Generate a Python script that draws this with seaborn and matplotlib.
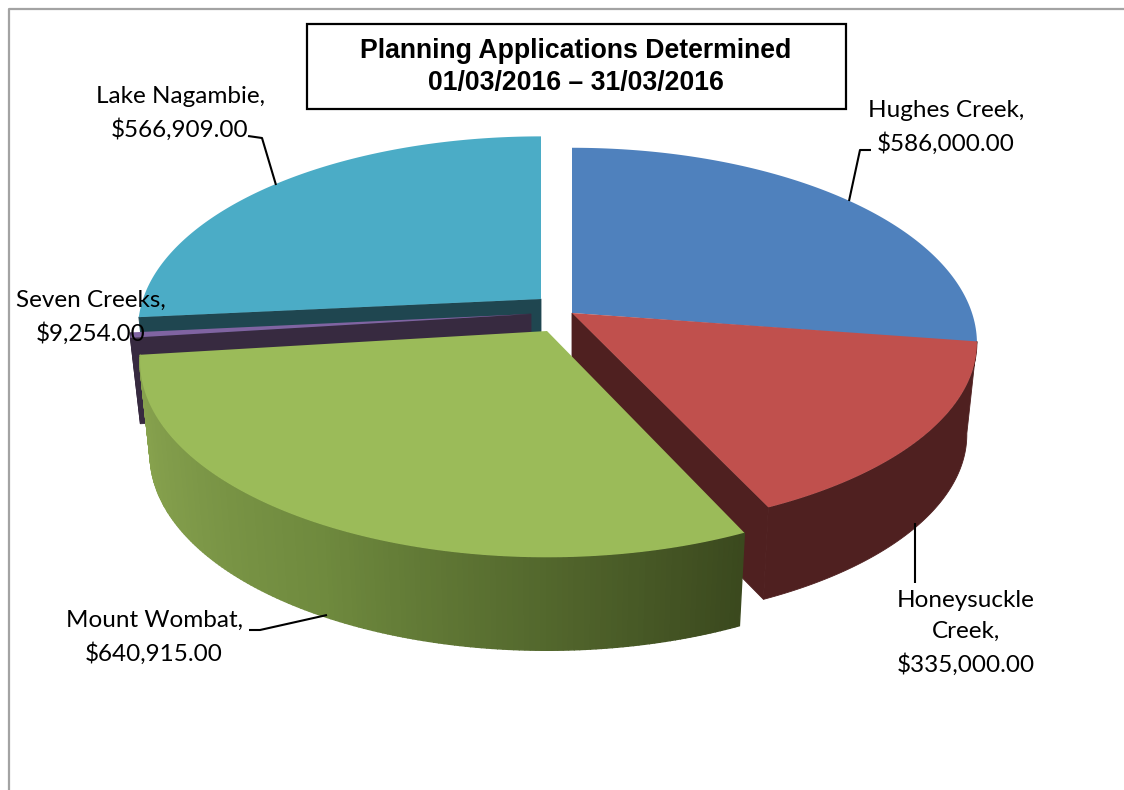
import numpy as np
import seaborn as sns
import matplotlib.pyplot as plt

areas = ['Hughes Creek', 'Honeysuckle\nCreek', 'Mount Wombat', 'Seven Creeks', 'Lake Nagambie']
values = [586000.00, 335000.00, 640915.00, 9254.00, 566909.00]
top_colors = ['#4f81bd', '#c0504d', '#9bbb59', '#8064a2', '#4bacc6']
side_colors = ['#2f4d71', '#4f2020', '#6d8a3c', '#372a40', '#1f4650']
green_side_stops = ['#8ba650', '#7f9a49', '#6f8a3e', '#556a2e', '#3b491e']
title_lines = ['Planning Applications Determined', '01/03/2016 \u2013 31/03/2016']

# where each slice sits on the page (pixels), exploded by hand
apex_x = [572, 572, 547, 531, 541]
apex_y = [313, 313, 331, 314, 299]
radius_x = [400, 400, 402, 396, 398]
radius_y = [191, 184, 191, 191, 188]
slice_depth = [92, 92, 93, 86, 92]
persp = 0.156
shrink = 0.975

label_xy = [(946, 127), (966, 633), (154, 637), (91, 317), (180, 113)]
leaders = [[(871, 150), (860, 150), (849, 201)],
           [(915, 523), (915, 583)],
           [(249, 630), (260, 630), (327, 615)],
           [(248, 136), (262, 138), (276, 185)]]


def rim(i, theta):
    # perspective ellipse, theta clockwise from the top
    u = np.sin(theta)
    v = -np.cos(theta)
    s = 1 / (1 - persp * v)
    return radius_x[i] * u * s, radius_y[i] * v * s


def top_pts(i, theta):
    dx, dy = rim(i, theta)
    return apex_x[i] + dx, apex_y[i] + dy


def low_pts(i, theta):
    dx, dy = rim(i, theta)
    return apex_x[i] + shrink * dx, apex_y[i] + dy + slice_depth[i]


def draw_radial_face(ax, i, theta, z):
    x0, y0 = top_pts(i, theta)
    x1, y1 = low_pts(i, theta)
    xs = [apex_x[i], x0, x1, apex_x[i]]
    ys = [apex_y[i], y0, y1, apex_y[i] + slice_depth[i]]
    ax.fill(xs, ys, color=side_colors[i], lw=0.6, zorder=z)


def draw_top(ax, i, arc, z):
    x0, y0 = top_pts(i, arc)
    ax.fill(np.r_[apex_x[i], x0], np.r_[apex_y[i], y0], color=top_colors[i], lw=0, zorder=z)


def draw_side(ax, i, arc, z):
    x0, y0 = top_pts(i, arc)
    x1, y1 = low_pts(i, arc)
    ax.fill(np.r_[x0, x1[::-1]], np.r_[y0, y1[::-1]], color=side_colors[i], lw=0.6, zorder=z)


sns.set_theme(style='white')
plt.rcParams['font.family'] = ['Lato', 'DejaVu Sans']

fig, ax = plt.subplots(figsize=(11.24, 7.9), dpi=100)
fig.subplots_adjust(0, 0, 1, 1)
ax.set_xlim(0, 1124)
ax.set_ylim(790, 0)
ax.axis('off')

# chart frame runs off the page on the right and bottom
ax.plot([8.5, 8.5, 1124], [790, 8.5, 8.5], color='#a3a3a3', lw=1.6, zorder=1)

edges = np.r_[0, np.cumsum(values)] / np.sum(values) * 2 * np.pi
arcs = [np.linspace(edges[i], edges[i + 1], 120) for i in range(len(values))]

# lake at the back first, then the sliver, then the big slices
draw_radial_face(ax, 4, edges[4], 2)
draw_top(ax, 4, arcs[4], 3)
draw_radial_face(ax, 3, edges[3], 4)
draw_side(ax, 3, arcs[3], 4)
draw_top(ax, 3, arcs[3], 5)

draw_top(ax, 0, arcs[0], 6)
draw_radial_face(ax, 1, edges[2], 7)
draw_side(ax, 1, arcs[1], 7)
draw_top(ax, 1, arcs[1], 8)

# green rim is shaded left to right
n_strips = 160
green_arc = np.linspace(edges[3], edges[2], n_strips + 1)
shades = sns.blend_palette(green_side_stops, n_colors=n_strips)
gx0, gy0 = top_pts(2, green_arc)
gx1, gy1 = low_pts(2, green_arc)
for j in range(n_strips):
    ax.fill([gx0[j], gx0[j + 1], gx1[j + 1], gx1[j]],
            [gy0[j], gy0[j + 1], gy1[j + 1], gy1[j]],
            color=shades[j], lw=1.0, zorder=9)
draw_top(ax, 2, arcs[2], 10)

for pts in leaders:
    xs, ys = zip(*pts)
    ax.plot(xs, ys, color='black', lw=1.5, zorder=11, solid_capstyle='butt')

for name, val, (lx, ly) in zip(areas, values, label_xy):
    ax.text(lx, ly, f'{name},\n${val:,.2f}', ha='center', va='center', fontsize=17.5,
            color='black', linespacing=1.6, zorder=12)

ax.fill([307, 846, 846, 307], [24, 24, 109, 109], facecolor='white', edgecolor='black', lw=1.6, zorder=11)
ax.text(576, 67, '\n'.join(title_lines), ha='center', va='center', fontsize=19.2, fontweight='bold',
        family=['Liberation Sans'], color='black', linespacing=1.26, zorder=12)

fig.savefig('out.png', dpi=100)
